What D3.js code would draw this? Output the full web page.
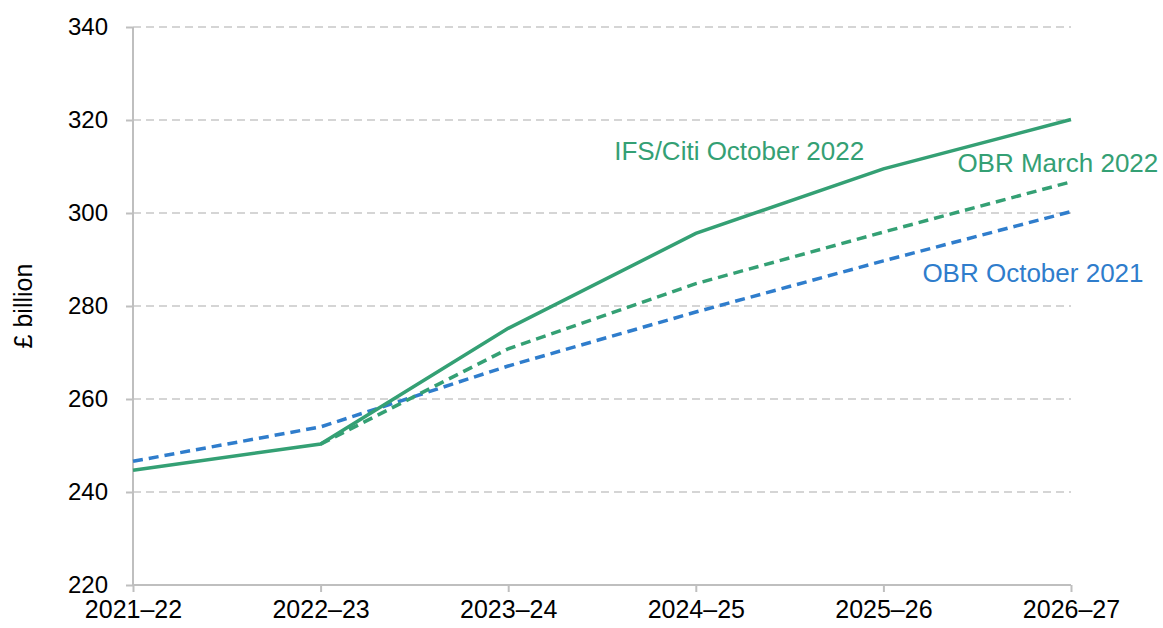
<!DOCTYPE html>
<html lang="en">
<head>
  <meta charset="UTF-8">
  <title>Forecasts, £ billion</title>
  <script src="https://d3js.org/d3.v7.min.js"></script>
  <style>
    body { margin: 0; background: #fff; font-family: "Liberation Sans", Arial, sans-serif; }
    svg { display: block; }
    .grid line { stroke: #c8c8c8; stroke-width: 1.5; stroke-dasharray: 8 5; }
    .axis path, .axis line { stroke: #bfbfbf; stroke-width: 2; }
    .axis text { fill: #000; font-family: "Liberation Sans", Arial, sans-serif; }
  </style>
</head>
<body>
  <svg width="1163" height="628"></svg>

  <script>
    const years = ["2021–22", "2022–23", "2023–24", "2024–25", "2025–26", "2026–27"];
    const yTicks = [220, 240, 260, 280, 300, 320, 340];

    // values, £ billion
    const ifsCiti = [244.7, 250.3, 275.2, 295.6, 309.5, 320.1];
    const obrMar22 = [null, 250.3, 270.8, 284.8, 295.9, 306.7];
    const obrOct21 = [246.6, 254.0, 267.1, 278.7, 289.7, 300.3];

    const green = "#34a074";
    const blue = "#2f7dcc";

    const series = [
      { name: "IFS/Citi October 2022", values: ifsCiti, color: green, dash: null },
      { name: "OBR March 2022", values: obrMar22, color: green, dash: "10 6" },
      { name: "OBR October 2021", values: obrOct21, color: blue, dash: "10 6" }
    ];

    const svg = d3.select("svg");
    const margin = { top: 27, right: 92, bottom: 43, left: 133 };
    const width = 1163 - margin.left - margin.right;
    const height = 628 - margin.top - margin.bottom;

    const x = d3.scalePoint().domain(years).range([0, width]);
    const y = d3.scaleLinear().domain([220, 340]).range([height, 0]);

    const g = svg.append("g").attr("transform", `translate(${margin.left},${margin.top})`);

    // dashed horizontal gridlines
    g.append("g").attr("class", "grid")
      .selectAll("line")
      .data(yTicks.filter(d => d > 220))
      .join("line")
      .attr("x1", 0).attr("x2", width)
      .attr("y1", d => y(d)).attr("y2", d => y(d));

    const yAxis = g.append("g").attr("class", "axis")
      .call(d3.axisLeft(y).tickValues(yTicks).tickSize(7).tickSizeOuter(0).tickPadding(18));
    yAxis.select(".domain").attr("d", `M0,${height}V0`);
    yAxis.selectAll("text").style("font-size", "24px");

    const xAxis = g.append("g").attr("class", "axis")
      .attr("transform", `translate(0,${height})`)
      .call(d3.axisBottom(x).tickSize(7).tickSizeOuter(0).tickPadding(8));
    xAxis.select(".domain").attr("d", `M0,0H${width}`);
    xAxis.selectAll("text").style("font-size", "25px");

    svg.append("text")
      .attr("transform", `translate(32,${margin.top + height / 2}) rotate(-90)`)
      .attr("text-anchor", "middle")
      .style("font-size", "25px")
      .text("£ billion");

    const line = d3.line()
      .defined(d => d != null)
      .x((d, i) => x(years[i]))
      .y(d => y(d));

    // draw blue first so green sits on top
    [series[2], series[1], series[0]].forEach(s => {
      g.append("path")
        .datum(s.values)
        .attr("fill", "none")
        .attr("stroke", s.color)
        .attr("stroke-width", 3.5)
        .attr("stroke-dasharray", s.dash)
        .attr("d", line);
    });

    // inline labels
    const labels = [
      { text: series[0].name, color: green, xv: "2023–24", dx: 106, yv: 311.4 },
      { text: series[1].name, color: green, xv: "2025–26", dx: 74, yv: 308.8 },
      { text: series[2].name, color: blue, xv: "2025–26", dx: 39, yv: 285.2 }
    ];
    g.selectAll(".lab")
      .data(labels)
      .join("text")
      .attr("class", "lab")
      .attr("x", d => x(d.xv) + d.dx)
      .attr("y", d => y(d.yv))
      .attr("fill", d => d.color)
      .style("font-size", "26px")
      .text(d => d.text);
  </script>
</body>
</html>
